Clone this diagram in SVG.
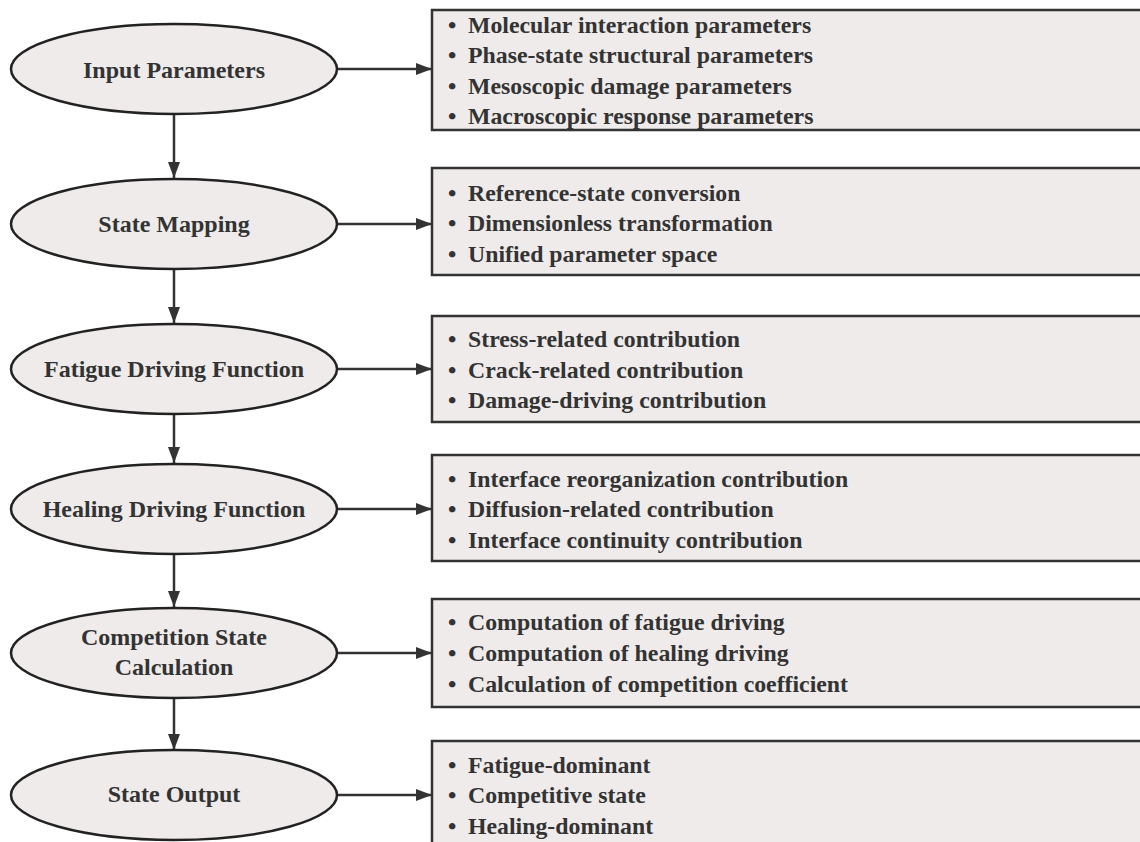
<svg xmlns="http://www.w3.org/2000/svg" width="1140" height="842" viewBox="0 0 1140 842">
<defs>
<marker id="ah" viewBox="0 0 16 12" refX="16" refY="6" markerWidth="16" markerHeight="12" markerUnits="userSpaceOnUse" orient="auto">
<path d="M0,0 L16,6 L0,12 Z" fill="#333"/>
</marker>
<style>
.el{fill:#eeebea;stroke:#222;stroke-width:2.5}
.bx{fill:#eeebea;stroke:#333;stroke-width:2.5}
.et{font-family:"Liberation Serif","Times New Roman",serif;font-weight:bold;font-size:24px;fill:#333;text-anchor:middle}
.bt{font-family:"Liberation Serif","Times New Roman",serif;font-weight:bold;font-size:23.8px;fill:#333}
.cn{stroke:#333;stroke-width:2.5;fill:none;marker-end:url(#ah)}
</style>
</defs>
<rect width="1140" height="842" fill="#fff"/>
<g id="connectors">
<line class="cn" x1="174" y1="114" x2="174" y2="178"/>
<line class="cn" x1="174" y1="269" x2="174" y2="323"/>
<line class="cn" x1="174" y1="414" x2="174" y2="463"/>
<line class="cn" x1="174" y1="554" x2="174" y2="607"/>
<line class="cn" x1="174" y1="698" x2="174" y2="750"/>
<line class="cn" x1="337" y1="69" x2="432" y2="69"/>
<line class="cn" x1="337" y1="224" x2="432" y2="224"/>
<line class="cn" x1="337" y1="369" x2="432" y2="369"/>
<line class="cn" x1="337" y1="509" x2="432" y2="509"/>
<line class="cn" x1="337" y1="653" x2="432" y2="653"/>
<line class="cn" x1="337" y1="795" x2="432" y2="795"/>
</g>
<g id="n1">
<ellipse class="el" cx="174" cy="69" rx="163" ry="45"/>
<text class="et" x="174" y="78">Input Parameters</text>
</g>
<g id="b1">
<rect class="bx" x="432" y="10" width="720" height="120"/>
<text class="bt"><tspan x="448" y="33">•</tspan><tspan x="468" y="33">Molecular interaction parameters</tspan><tspan x="448" y="63">•</tspan><tspan x="468" y="63">Phase-state structural parameters</tspan><tspan x="448" y="94">•</tspan><tspan x="468" y="94">Mesoscopic damage parameters</tspan><tspan x="448" y="124">•</tspan><tspan x="468" y="124">Macroscopic response parameters</tspan></text>
</g>
<g id="n2">
<ellipse class="el" cx="174" cy="224" rx="163" ry="45"/>
<text class="et" x="174" y="232">State Mapping</text>
</g>
<g id="b2">
<rect class="bx" x="432" y="168" width="720" height="107"/>
<text class="bt"><tspan x="448" y="201">•</tspan><tspan x="468" y="201">Reference-state conversion</tspan><tspan x="448" y="231">•</tspan><tspan x="468" y="231">Dimensionless transformation</tspan><tspan x="448" y="262">•</tspan><tspan x="468" y="262">Unified parameter space</tspan></text>
</g>
<g id="n3">
<ellipse class="el" cx="174" cy="369" rx="163" ry="45"/>
<text class="et" x="174" y="377">Fatigue Driving Function</text>
</g>
<g id="b3">
<rect class="bx" x="432" y="316" width="720" height="106"/>
<text class="bt"><tspan x="448" y="347">•</tspan><tspan x="468" y="347">Stress-related contribution</tspan><tspan x="448" y="378">•</tspan><tspan x="468" y="378">Crack-related contribution</tspan><tspan x="448" y="408">•</tspan><tspan x="468" y="408">Damage-driving contribution</tspan></text>
</g>
<g id="n4">
<ellipse class="el" cx="174" cy="509" rx="163" ry="45"/>
<text class="et" x="174" y="517">Healing Driving Function</text>
</g>
<g id="b4">
<rect class="bx" x="432" y="455" width="720" height="106"/>
<text class="bt"><tspan x="448" y="487">•</tspan><tspan x="468" y="487">Interface reorganization contribution</tspan><tspan x="448" y="517">•</tspan><tspan x="468" y="517">Diffusion-related contribution</tspan><tspan x="448" y="548">•</tspan><tspan x="468" y="548">Interface continuity contribution</tspan></text>
</g>
<g id="n5">
<ellipse class="el" cx="174" cy="653" rx="163" ry="45"/>
<text class="et" x="174" y="645">Competition State</text>
<text class="et" x="174" y="675">Calculation</text>
</g>
<g id="b5">
<rect class="bx" x="432" y="599" width="720" height="108"/>
<text class="bt"><tspan x="448" y="630">•</tspan><tspan x="468" y="630">Computation of fatigue driving</tspan><tspan x="448" y="661">•</tspan><tspan x="468" y="661">Computation of healing driving</tspan><tspan x="448" y="692">•</tspan><tspan x="468" y="692">Calculation of competition coefficient</tspan></text>
</g>
<g id="n6">
<ellipse class="el" cx="174" cy="795" rx="163" ry="45"/>
<text class="et" x="174" y="802">State Output</text>
</g>
<g id="b6">
<rect class="bx" x="432" y="741" width="720" height="120"/>
<text class="bt"><tspan x="448" y="773">•</tspan><tspan x="468" y="773">Fatigue-dominant</tspan><tspan x="448" y="803">•</tspan><tspan x="468" y="803">Competitive state</tspan><tspan x="448" y="834">•</tspan><tspan x="468" y="834">Healing-dominant</tspan></text>
</g>
</svg>
